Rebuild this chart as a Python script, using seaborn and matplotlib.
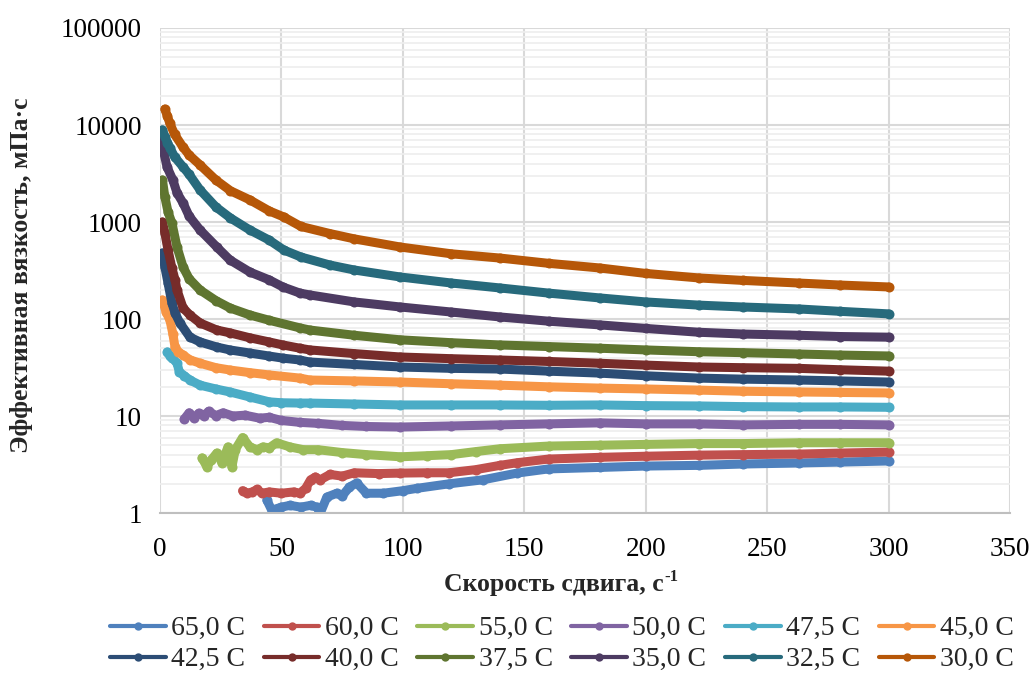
import matplotlib
matplotlib.use("Agg")
import matplotlib.pyplot as plt
from matplotlib.lines import Line2D
from matplotlib.ticker import FixedLocator, NullLocator
import numpy as np
import pandas as pd
import seaborn as sns

# ---- data ----
labels = ["65,0 C", "60,0 C", "55,0 C", "50,0 C", "47,5 C", "45,0 C",
          "42,5 C", "40,0 C", "37,5 C", "35,0 C", "32,5 C", "30,0 C"]
colors = ["#4F81BD", "#C0504D", "#9BBB59", "#8064A2", "#4BACC6", "#F79646",
          "#2C4D75", "#772C2A", "#5F7530", "#4D3B62", "#276A7C", "#B65708"]

x65 = [44, 46, 50, 53.5, 58, 62, 64.6, 66, 68.7, 72.8, 75, 78, 81, 85, 92, 100, 106, 119, 133, 147, 160, 181, 200, 222, 240, 263, 280, 300]
y65 = [1.36, 1.07, 1.15, 1.2, 1.15, 1.2, 1.15, 1.0, 1.46, 1.6, 1.5, 1.85, 2.04, 1.6, 1.6, 1.7, 1.8, 2.0, 2.2, 2.58, 2.85, 2.95, 3.05, 3.1, 3.2, 3.28, 3.35, 3.44]

x60 = [34, 36, 38, 40, 42, 45, 50, 55, 57.6, 60, 62, 64, 66, 70, 75, 80, 90, 99, 110, 119, 130, 140, 147, 160, 181, 200, 222, 240, 263, 280, 300]
y60 = [1.7, 1.6, 1.65, 1.75, 1.6, 1.65, 1.6, 1.65, 1.6, 1.8, 2.2, 2.35, 2.2, 2.5, 2.4, 2.6, 2.55, 2.58, 2.6, 2.6, 2.8, 3.1, 3.3, 3.6, 3.75, 3.85, 3.95, 4.0, 4.05, 4.15, 4.25]

x55 = [17.3, 19.3, 21, 23.4, 25.5, 28, 29.6, 31, 34, 37, 40, 42.4, 45, 48, 53.5, 59, 65, 75, 85, 99, 110, 120, 130, 140, 160, 181, 200, 222, 240, 263, 280, 300]
y55 = [3.7, 3.0, 3.5, 4.15, 3.3, 4.8, 3.0, 4.5, 6.0, 4.8, 4.5, 4.8, 4.7, 5.3, 4.8, 4.5, 4.5, 4.2, 4.0, 3.8, 3.9, 4.0, 4.3, 4.6, 4.9, 5.0, 5.1, 5.2, 5.2, 5.3, 5.3, 5.3]

x50 = [10, 12, 14, 16, 18, 20, 23, 26, 30, 35, 41, 45, 50, 57.6, 65, 75, 85, 99, 120, 140, 160, 181, 200, 222, 240, 263, 280, 300]
y50 = [9.3, 10.8, 9.6, 10.7, 10.0, 11.2, 10.1, 10.8, 10.0, 10.2, 9.5, 9.7, 9.0, 8.6, 8.4, 8.0, 7.8, 7.7, 7.9, 8.1, 8.3, 8.5, 8.3, 8.3, 8.1, 8.2, 8.2, 8.1]

x475 = [3, 4, 5, 7, 8, 10, 12.3, 16.5, 23, 28.8, 37, 45, 50, 57.6, 61.7, 80, 99, 120, 140, 160, 181, 200, 222, 240, 263, 280, 300]
y475 = [45.7, 42, 40, 35, 28.4, 26, 23.5, 20.8, 19, 17.7, 15.7, 14, 13.7, 13.6, 13.6, 13.3, 13, 13, 13, 12.9, 13, 12.8, 12.7, 12.5, 12.4, 12.4, 12.3]

x45 = [1, 2.5, 4.1, 5.3, 6.2, 7.5, 9.5, 12.3, 16.5, 23, 28.8, 37, 45, 57.6, 61.7, 80, 99, 120, 140, 160, 181, 200, 222, 240, 263, 280, 300]
y45 = [157, 118, 97, 70, 51, 46, 42.5, 38, 35, 31.5, 29.8, 28, 26.5, 24.6, 23.5, 23, 22.4, 21.5, 20.8, 20, 19.4, 19, 18.5, 18, 17.7, 17.5, 17.3]

x425 = [1, 2, 3.3, 4.9, 6.2, 8.2, 12.3, 16.5, 23.4, 28.8, 37, 45, 50.6, 57.6, 61.7, 80, 99, 120, 140, 160, 181, 200, 222, 240, 263, 280, 300]
y425 = [479, 344, 235, 146, 115, 91, 65, 58, 51.4, 48, 44.6, 41.5, 39.5, 37.8, 36, 34, 32, 31, 30.5, 29, 27.7, 26, 24.6, 24, 23.5, 23, 22.4]

x40 = [1, 2, 3.3, 4.9, 6.2, 7, 9.5, 12.3, 16.5, 23.4, 28.8, 37, 45, 50.6, 57.6, 61.7, 80, 99, 120, 140, 160, 181, 200, 222, 240, 263, 280, 300]
y40 = [1000, 770, 514, 336, 253, 199, 130, 110, 91, 77, 72, 64, 58, 54, 50, 48, 44, 40.6, 39, 37.8, 36.5, 35, 33.5, 32, 31.5, 31, 30, 29]

x375 = [1, 2, 3.3, 4.9, 7, 9.5, 12, 16.5, 23, 28.8, 37, 45, 57.6, 61.7, 80, 99, 120, 140, 160, 181, 200, 222, 240, 263, 280, 300]
y375 = [2710, 1810, 1270, 977, 552, 344, 260, 199, 155, 130, 110, 97, 81, 77, 68, 61, 57, 54, 52, 50, 48, 46, 45, 43.6, 42.5, 41.6]

x35 = [1, 1.5, 2.9, 5.3, 7, 9.5, 12, 16.5, 23.4, 28.8, 37, 45, 50.6, 57.6, 61.7, 80, 99, 120, 140, 160, 181, 200, 222, 240, 263, 280, 300]
y35 = [7000, 5300, 3690, 2710, 2000, 1570, 1150, 827, 552, 406, 305, 253, 214, 185, 177, 150, 133, 118, 105, 95, 87, 80, 73, 70, 68, 66, 65]

x325 = [1, 2, 3, 4.1, 6, 9.5, 12, 16.5, 23, 29, 37, 45, 51, 58, 70, 80, 99, 120, 140, 160, 181, 200, 222, 240, 263, 280, 300]
y325 = [8900, 7600, 6600, 5800, 4700, 3690, 3100, 2140, 1430, 1100, 827, 650, 514, 436, 360, 320, 271, 235, 209, 185, 165, 150, 139, 133, 127, 120, 113]

x30 = [2, 3, 4, 6, 9.5, 12, 16.5, 23, 29, 37, 45, 51, 58, 70, 80, 99, 120, 140, 160, 181, 200, 222, 240, 263, 280, 300]
y30 = [14600, 12400, 10500, 8000, 5900, 4900, 3870, 2710, 2100, 1690, 1300, 1126, 900, 760, 670, 552, 470, 425, 375, 336, 295, 265, 250, 235, 224, 214]

xs = [x65, x60, x55, x50, x475, x45, x425, x40, x375, x35, x325, x30]
ys = [y65, y60, y55, y50, y475, y45, y425, y40, y375, y35, y325, y30]

xticks = [0, 50, 100, 150, 200, 250, 300, 350]
yticks = [1, 10, 100, 1000, 10000, 100000]
ytick_labels = ["1", "10", "100", "1000", "10000", "100000"]

# ---- figure ----
sns.set_theme(style="white")
plt.rcParams["font.family"] = ["Liberation Serif", "DejaVu Serif"]

frames = []
for lab, x, y in zip(labels, xs, ys):
    frames.append(pd.DataFrame({"x": x, "v": y, "T": lab}))
df = pd.concat(frames, ignore_index=True)

fig = plt.figure(figsize=(10.35, 6.73), dpi=100)
ax = fig.add_axes([0.1546, 0.2377, 0.8212, 0.7207])

sns.lineplot(data=df, x="x", y="v", hue="T", hue_order=labels,
             palette=colors, marker="o", markersize=7.2, markeredgewidth=0,
             linewidth=6.5, sort=False, estimator=None, legend=False, ax=ax)

ax.set_yscale("log")
ax.set_xlim(0, 350)
ax.set_ylim(1, 100000)
ax.xaxis.set_major_locator(FixedLocator(xticks))
ax.xaxis.set_minor_locator(NullLocator())
ax.yaxis.set_major_locator(FixedLocator(yticks))
ax.set_yticklabels(ytick_labels)
minor = [m * 10.0 ** e for e in range(0, 5) for m in range(2, 10)]
ax.yaxis.set_minor_locator(FixedLocator(minor))
ax.set_xticklabels([str(t) for t in xticks])

ax.grid(which="major", color="#D9D9D9", linewidth=1.5)
ax.grid(which="minor", axis="y", color="#EEEEEE", linewidth=1.2)
ax.set_axisbelow(True)
for s in ["top", "right", "left"]:
    ax.spines[s].set_visible(False)
ax.spines["bottom"].set_color("#BFBFBF")
ax.spines["bottom"].set_linewidth(1.5)
ax.tick_params(axis="both", which="both", length=0, labelsize=19.5, colors="black")
ax.tick_params(axis="y", pad=13)
ax.tick_params(axis="x", pad=17)
ax.set_xlabel("")
ax.set_ylabel("")

# x-axis title with superscript "-1"
main_t = fig.text(0.535, 0.131, "Скорость сдвига, с", ha="center", va="center",
                  fontsize=18.5, fontweight="bold")
fig.canvas.draw()
bb = main_t.get_window_extent().transformed(fig.transFigure.inverted())
fig.text(bb.x1 + 0.001, bb.y1 - 0.006, "-1", ha="left", va="center",
         fontsize=12, fontweight="bold")

fig.text(0.021, 0.591, "Эффективная вязкость, мПа·с", ha="center", va="center",
         rotation=90, fontsize=18.5, fontweight="bold")

handles = [Line2D([0], [0], color=c, lw=3, marker="o", markersize=6,
                  markeredgewidth=0) for c in colors]
ncol = 6
order = [r * ncol + c for c in range(ncol) for r in range(2)]
fig.legend([handles[i] for i in order], [labels[i] for i in order], ncol=ncol,
           loc="center", bbox_to_anchor=(0.543, 0.043),
           frameon=False, fontsize=20, handlelength=2.0, handletextpad=0.2,
           columnspacing=0.67, labelspacing=0.2, borderpad=0.2)

fig.savefig("out.png", dpi=100)
